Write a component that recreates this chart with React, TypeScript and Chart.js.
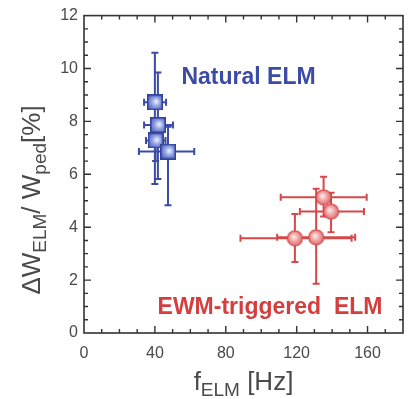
import React, { useEffect, useRef } from "react";
import { Chart, registerables } from "chart.js";

Chart.register(...registerables);

// Natural ELM (blue squares)
const naturalX = [40.0, 41.7, 40.4, 47.4];
const naturalY = [8.72, 7.86, 7.28, 6.86];
const naturalXLow = [33.9, 33.9, 35.0, 31.0];
const naturalXHigh = [46.3, 50.2, 46.0, 62.2];
const naturalYLow = [5.63, 5.82, 6.5, 4.83];
const naturalYHigh = [10.6, 9.85, 8.0, 7.8];

// EWM-triggered ELM (red circles)
const ewmX = [135.2, 139.4, 119.0, 131.0];
const ewmY = [5.13, 4.59, 3.58, 3.62];
const ewmXLow = [111.0, 121.8, 88.3, 109.0];
const ewmXHigh = [159.5, 158.0, 151.0, 153.0];
const ewmYLow = [4.4, 3.81, 2.68, 1.86];
const ewmYHigh = [5.91, 5.3, 4.5, 5.45];

const xTicks = [0, 40, 80, 120, 160];
const yTicks = [0, 2, 4, 6, 8, 10, 12];

const BLUE = "#3b4ba6";
const RED = "#d64848";
const AXIS = "#333333";
const TEXT = "#4a4a4a";
const FONT = "'Liberation Sans', Arial, Helvetica, sans-serif";

function makeSquare(): HTMLCanvasElement {
  const s = 16;
  const c = document.createElement("canvas");
  c.width = s;
  c.height = s;
  const g = c.getContext("2d")!;
  const grad = g.createRadialGradient(s * 0.58, s * 0.45, 0, s * 0.55, s * 0.5, s * 0.72);
  grad.addColorStop(0, "#f4f7ff");
  grad.addColorStop(0.4, "#8f9fe2");
  grad.addColorStop(1, "#3a4cae");
  g.fillStyle = grad;
  g.fillRect(0.75, 0.75, s - 1.5, s - 1.5);
  g.strokeStyle = "#33439c";
  g.lineWidth = 1.6;
  g.strokeRect(0.8, 0.8, s - 1.6, s - 1.6);
  return c;
}

function makeCircle(): HTMLCanvasElement {
  const s = 17;
  const c = document.createElement("canvas");
  c.width = s;
  c.height = s;
  const g = c.getContext("2d")!;
  const grad = g.createRadialGradient(s * 0.42, s * 0.4, 0, s * 0.5, s * 0.5, s * 0.52);
  grad.addColorStop(0, "#fff2f2");
  grad.addColorStop(0.55, "#ee9a9a");
  grad.addColorStop(1, "#d85a5a");
  g.fillStyle = grad;
  g.beginPath();
  g.arc(s / 2, s / 2, s / 2 - 1, 0, Math.PI * 2);
  g.fill();
  g.strokeStyle = "#d04a4a";
  g.lineWidth = 1.2;
  g.stroke();
  return c;
}

type Seg = { t: string; sub?: boolean };

function drawSegs(ctx: CanvasRenderingContext2D, segs: Seg[], cx: number, y: number, main: string, sub: string, shift: number) {
  let total = 0;
  const ws = segs.map((s) => {
    ctx.font = s.sub ? sub : main;
    const w = ctx.measureText(s.t).width;
    total += w;
    return w;
  });
  let x = cx - total / 2;
  segs.forEach((s, i) => {
    ctx.font = s.sub ? sub : main;
    ctx.fillText(s.t, x, s.sub ? y + shift : y);
    x += ws[i];
  });
}

function errorBars(ctx: CanvasRenderingContext2D, xs: any, ys: any, px: number[], py: number[], xl: number[], xh: number[], yl: number[], yh: number[], color: string) {
  ctx.save();
  ctx.strokeStyle = color;
  ctx.lineWidth = 2;
  const cap = 3.5;
  for (let i = 0; i < px.length; i++) {
    const x = xs.getPixelForValue(px[i]);
    const y = ys.getPixelForValue(py[i]);
    const x1 = xs.getPixelForValue(xl[i]);
    const x2 = xs.getPixelForValue(xh[i]);
    const y1 = ys.getPixelForValue(yl[i]);
    const y2 = ys.getPixelForValue(yh[i]);
    ctx.beginPath();
    ctx.moveTo(x1, y);
    ctx.lineTo(x2, y);
    ctx.moveTo(x1, y - cap);
    ctx.lineTo(x1, y + cap);
    ctx.moveTo(x2, y - cap);
    ctx.lineTo(x2, y + cap);
    ctx.moveTo(x, y1);
    ctx.lineTo(x, y2);
    ctx.moveTo(x - cap, y1);
    ctx.lineTo(x + cap, y1);
    ctx.moveTo(x - cap, y2);
    ctx.lineTo(x + cap, y2);
    ctx.stroke();
  }
  ctx.restore();
}

const decorPlugin = {
  id: "decor",
  beforeDatasetsDraw(chart: any) {
    const { ctx, scales } = chart;
    errorBars(ctx, scales.x, scales.y, naturalX, naturalY, naturalXLow, naturalXHigh, naturalYLow, naturalYHigh, BLUE);
    errorBars(ctx, scales.x, scales.y, ewmX, ewmY, ewmXLow, ewmXHigh, ewmYLow, ewmYHigh, RED);
  },
  afterDraw(chart: any) {
    const { ctx, chartArea, scales } = chart;
    const { left, right, top, bottom } = chartArea;
    const xs = scales.x;
    const ys = scales.y;
    ctx.save();
    // frame
    ctx.strokeStyle = AXIS;
    ctx.lineWidth = 1.6;
    ctx.strokeRect(left, top, right - left, bottom - top);
    // ticks (inward)
    ctx.lineWidth = 1.4;
    ctx.beginPath();
    for (let v = 10; v < 180; v += 10) {
      const p = xs.getPixelForValue(v);
      const len = v % 40 === 0 ? 7 : 4;
      ctx.moveTo(p, bottom);
      ctx.lineTo(p, bottom - len);
      ctx.moveTo(p, top);
      ctx.lineTo(p, top + len);
    }
    for (let v = 0.5; v < 12; v += 0.5) {
      const p = ys.getPixelForValue(v);
      const len = Math.abs(v % 2) < 1e-9 ? 7 : 4;
      ctx.moveTo(left, p);
      ctx.lineTo(left + len, p);
      ctx.moveTo(right, p);
      ctx.lineTo(right - len, p);
    }
    ctx.stroke();

    // annotations
    ctx.textBaseline = "alphabetic";
    ctx.textAlign = "left";
    ctx.font = `bold 23px ${FONT}`;
    ctx.fillStyle = BLUE;
    ctx.fillText("Natural ELM", xs.getPixelForValue(55), ys.getPixelForValue(9.43));
    ctx.fillStyle = "#d43e3e";
    ctx.fillText("EWM-triggered  ELM", xs.getPixelForValue(41.5), ys.getPixelForValue(0.73));

    // axis titles
    ctx.fillStyle = TEXT;
    const main = `26px ${FONT}`;
    const sub = `19px ${FONT}`;
    drawSegs(ctx, [{ t: "f" }, { t: "ELM", sub: true }, { t: " [Hz]" }], (left + right) / 2, 390, main, sub, 6);
    ctx.save();
    ctx.translate(40, 200);
    ctx.rotate(-Math.PI / 2);
    drawSegs(
      ctx,
      [{ t: "\u0394W" }, { t: "ELM", sub: true }, { t: "/ W" }, { t: "ped", sub: true }, { t: "[%]" }],
      0,
      0,
      main,
      sub,
      6
    );
    ctx.restore();
    ctx.restore();
  },
};

export default function App() {
  const ref = useRef<HTMLCanvasElement | null>(null);
  useEffect(() => {
    document.body.style.margin = "0";
    const canvas = ref.current!;
    const square = makeSquare();
    const circle = makeCircle();
    const chart = new Chart(canvas, {
      type: "scatter",
      data: {
        datasets: [
          {
            label: "Natural ELM",
            data: naturalX.map((x, i) => ({ x, y: naturalY[i] })),
            pointStyle: square as any,
            pointRadius: 8,
            backgroundColor: BLUE,
            borderColor: BLUE,
          },
          {
            label: "EWM-triggered ELM",
            data: ewmX.map((x, i) => ({ x, y: ewmY[i] })),
            pointStyle: circle as any,
            pointRadius: 8,
            backgroundColor: RED,
            borderColor: RED,
          },
        ],
      },
      options: {
        animation: false,
        responsive: false,
        maintainAspectRatio: false,
        layout: { padding: { top: 13, right: 4, left: 0, bottom: 0 } },
        plugins: {
          legend: { display: false },
          tooltip: { enabled: false },
          title: { display: false },
        },
        scales: {
          x: {
            type: "linear",
            min: 0,
            max: 180,
            grid: { display: false, drawTicks: false },
            border: { display: false },
            afterBuildTicks: (s: any) => {
              s.ticks = xTicks.map((v) => ({ value: v }));
            },
            afterFit: (s: any) => {
              s.height = 66;
            },
            ticks: {
              padding: 11,
              color: TEXT,
              autoSkip: false,
              maxRotation: 0,
              font: { family: FONT, size: 16 },
            },
          },
          y: {
            type: "linear",
            min: 0,
            max: 12,
            grid: { display: false, drawTicks: false },
            border: { display: false },
            afterBuildTicks: (s: any) => {
              s.ticks = yTicks.map((v) => ({ value: v }));
            },
            afterFit: (s: any) => {
              s.width = 84;
            },
            ticks: {
              padding: 6,
              color: TEXT,
              autoSkip: false,
              font: { family: FONT, size: 16 },
            },
          },
        },
      },
      plugins: [decorPlugin],
    });
    return () => chart.destroy();
  }, []);
  return (
    <div style={{ width: 412, height: 399, background: "#fff" }}>
      <canvas ref={ref} width={412} height={399} style={{ display: "block" }} />
    </div>
  );
}
